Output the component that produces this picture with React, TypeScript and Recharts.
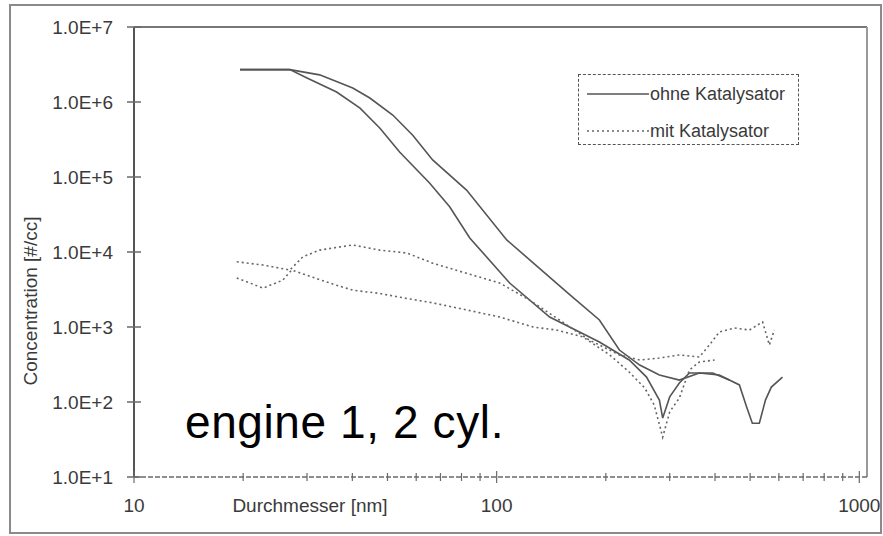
import { Line, LineChart, ReferenceLine, XAxis, YAxis } from 'recharts';

// diameter [nm], concentration [#/cc]
const ohneA: [number, number][] = [
  [19.6, 2.7e6], [26.9, 2.7e6], [32.5, 2.3e6], [40.1, 1.54e6], [44.7, 1.13e6], [51.7, 6.7e5],
  [58.7, 3.6e5], [66.6, 1.69e5], [82.6, 6.7e4], [106.6, 1.45e4], [131, 6.1e3], [159, 2.7e3],
  [192, 1.24e3], [218, 493], [248, 311], [281, 229], [319, 196], [362, 244], [411, 229],
  [467, 169], [489, 86], [507, 52], [530, 52], [551, 106], [572, 158], [614, 215],
];

const ohneB: [number, number][] = [
  [19.6, 2.7e6], [26.9, 2.7e6], [30.0, 2.09e6], [36.2, 1.36e6], [42.0, 8.3e5], [47.6, 4.5e5],
  [54.0, 2.15e5], [65.3, 8.3e4], [74.2, 4.0e4], [84.3, 1.54e4], [108.6, 3.86e3], [140, 1.36e3],
  [192, 631], [232, 363], [259, 215], [281, 106], [287, 61], [300, 117], [319, 179],
  [340, 244], [394, 244], [438, 196],
];

const mitA: [number, number][] = [
  [19.2, 7.4e3], [22.7, 6.7e3], [26.9, 5.75e3], [29.2, 8.6e3], [32.5, 1.06e4], [40.1, 1.24e4],
  [47.6, 1.06e4], [56.5, 9.7e3], [66.6, 7.1e3], [82.6, 5.2e3], [101.9, 3.86e3], [123, 2.3e3],
  [149, 1.24e3], [180, 671], [218, 424], [248, 363], [281, 386], [319, 424], [362, 398],
  [386, 575], [411, 858], [453, 970], [498, 912], [541, 1.17e3], [565, 575], [583, 912],
];

const mitB: [number, number][] = [
  [19.2, 4.5e3], [22.7, 3.3e3], [25.7, 4.2e3], [27.2, 5.75e3], [31.1, 4.6e3], [36.2, 3.6e3],
  [40.1, 3.1e3], [47.6, 2.8e3], [56.5, 2.4e3], [66.6, 2.1e3], [82.6, 1.69e3], [101.9, 1.36e3],
  [126, 1.0e3], [146, 912], [173, 736], [205, 424], [232, 251], [256, 154], [272, 91],
  [287, 34], [300, 74], [319, 113], [340, 267], [362, 341], [399, 363],
];

const yTicks = [1e1, 1e2, 1e3, 1e4, 1e5, 1e6, 1e7];
const xMajorTicks = [10, 100, 1000];
const xMinorTicks = [20, 30, 40, 50, 60, 70, 80, 90, 200, 300, 400, 500, 600, 700, 800, 900];

const toRows = (pts: [number, number][]) => pts.map(([d, c]) => ({ d, c }));

const FONT = "'Liberation Sans Narrow', 'Arial Narrow', 'Liberation Sans', Arial, sans-serif";
const TEXT = '#3a3a3a';
const AXIS = '#6a6a6a';

function YTick({ x, y, payload }: any) {
  const exp = Math.round(Math.log10(payload.value));
  return (
    <g>
      <line x1={x - 7} x2={x + 7} y1={y} y2={y} stroke={AXIS} strokeWidth={1.5} />
      <text x={x - 21} y={y} dy="0.36em" textAnchor="end" fill={TEXT} fontSize={19} fontFamily={FONT}>
        {`1.0E+${exp}`}
      </text>
    </g>
  );
}

function XTick({ x, y, payload }: any) {
  const major = xMajorTicks.includes(payload.value);
  return (
    <g>
      <line x1={x} x2={x} y1={y - (major ? 6 : 4)} y2={y + (major ? 6 : 4)} stroke={AXIS} strokeWidth={1.2} />
      {major && (
        <text x={x} y={y + 28} dy="0.36em" textAnchor="middle" fill={TEXT} fontSize={19} fontFamily={FONT}>
          {payload.value}
        </text>
      )}
    </g>
  );
}

export default function App() {
  return (
    <div style={{ position: 'absolute', left: 0, top: 0, width: 883, height: 536, background: '#fff' }}>
      <div
        style={{
          position: 'absolute',
          left: 9,
          top: 4,
          width: 869,
          height: 526,
          border: '2px solid #8a8a8a',
        }}
      />
      <LineChart
        width={883}
        height={536}
        margin={{ top: 27, right: 16, bottom: 0, left: 0 }}
        style={{ position: 'absolute', left: 0, top: 0 }}
      >
        <XAxis
          dataKey="d"
          type="number"
          scale="log"
          domain={[10, 1050]}
          allowDataOverflow
          ticks={[...xMajorTicks, ...xMinorTicks]}
          interval={0}
          tick={<XTick />}
          tickLine={false}
          tickSize={0}
          tickMargin={0}
          height={59}
          axisLine={{ stroke: AXIS, strokeWidth: 1.5, strokeDasharray: '5 2' }}
          label={() => (
            <text x={310} y={505} dy="0.36em" textAnchor="middle" fill={TEXT} fontSize={19} fontFamily={FONT}>
              Durchmesser [nm]
            </text>
          )}
        />
        <YAxis
          dataKey="c"
          type="number"
          scale="log"
          domain={[10, 1e7]}
          allowDataOverflow
          ticks={yTicks}
          interval={0}
          tick={<YTick />}
          tickLine={false}
          tickSize={0}
          tickMargin={0}
          width={134}
          axisLine={{ stroke: '#555', strokeWidth: 2 }}
          label={() => (
            <text
              x={30}
              y={301}
              dy="0.36em"
              textAnchor="middle"
              fill={TEXT}
              fontSize={19}
              fontFamily={FONT}
              transform="rotate(-90, 30, 301)"
            >
              Concentration [#/cc]
            </text>
          )}
        />
        <ReferenceLine y={1e7} stroke="#777" strokeWidth={2} ifOverflow="visible" />
        <ReferenceLine x={1050} stroke="#999" strokeWidth={2} ifOverflow="visible" />
        <Line data={toRows(ohneA)} dataKey="c" stroke="#555" strokeWidth={1.6} dot={false} isAnimationActive={false} />
        <Line data={toRows(ohneB)} dataKey="c" stroke="#555" strokeWidth={1.6} dot={false} isAnimationActive={false} />
        <Line
          data={toRows(mitA)}
          dataKey="c"
          stroke="#666"
          strokeWidth={1.6}
          strokeDasharray="2 3"
          dot={false}
          isAnimationActive={false}
        />
        <Line
          data={toRows(mitB)}
          dataKey="c"
          stroke="#666"
          strokeWidth={1.6}
          strokeDasharray="2 3"
          dot={false}
          isAnimationActive={false}
        />
      </LineChart>
      <div
        style={{
          position: 'absolute',
          left: 578,
          top: 74,
          width: 219,
          height: 69,
          border: '1.5px dashed #555',
          fontFamily: FONT,
          fontSize: 18,
          color: TEXT,
        }}
      >
        <svg width={64} height={10} style={{ position: 'absolute', left: 8, top: 14 }}>
          <line x1={0} x2={62} y1={5} y2={5} stroke="#555" strokeWidth={1.6} />
        </svg>
        <div style={{ position: 'absolute', left: 71, top: 6, lineHeight: '26px', whiteSpace: 'nowrap' }}>
          ohne Katalysator
        </div>
        <svg width={64} height={10} style={{ position: 'absolute', left: 8, top: 51 }}>
          <line x1={0} x2={62} y1={5} y2={5} stroke="#666" strokeWidth={1.6} strokeDasharray="2 3" />
        </svg>
        <div style={{ position: 'absolute', left: 71, top: 43, lineHeight: '26px', whiteSpace: 'nowrap' }}>
          mit Katalysator
        </div>
      </div>
      <div
        style={{
          position: 'absolute',
          left: 185,
          top: 397,
          fontFamily: "'Liberation Sans', Arial, sans-serif",
          fontSize: 46,
          letterSpacing: '0.6px',
          lineHeight: '50px',
          color: '#000',
          whiteSpace: 'nowrap',
        }}
      >
        engine 1, 2 cyl.
      </div>
    </div>
  );
}
